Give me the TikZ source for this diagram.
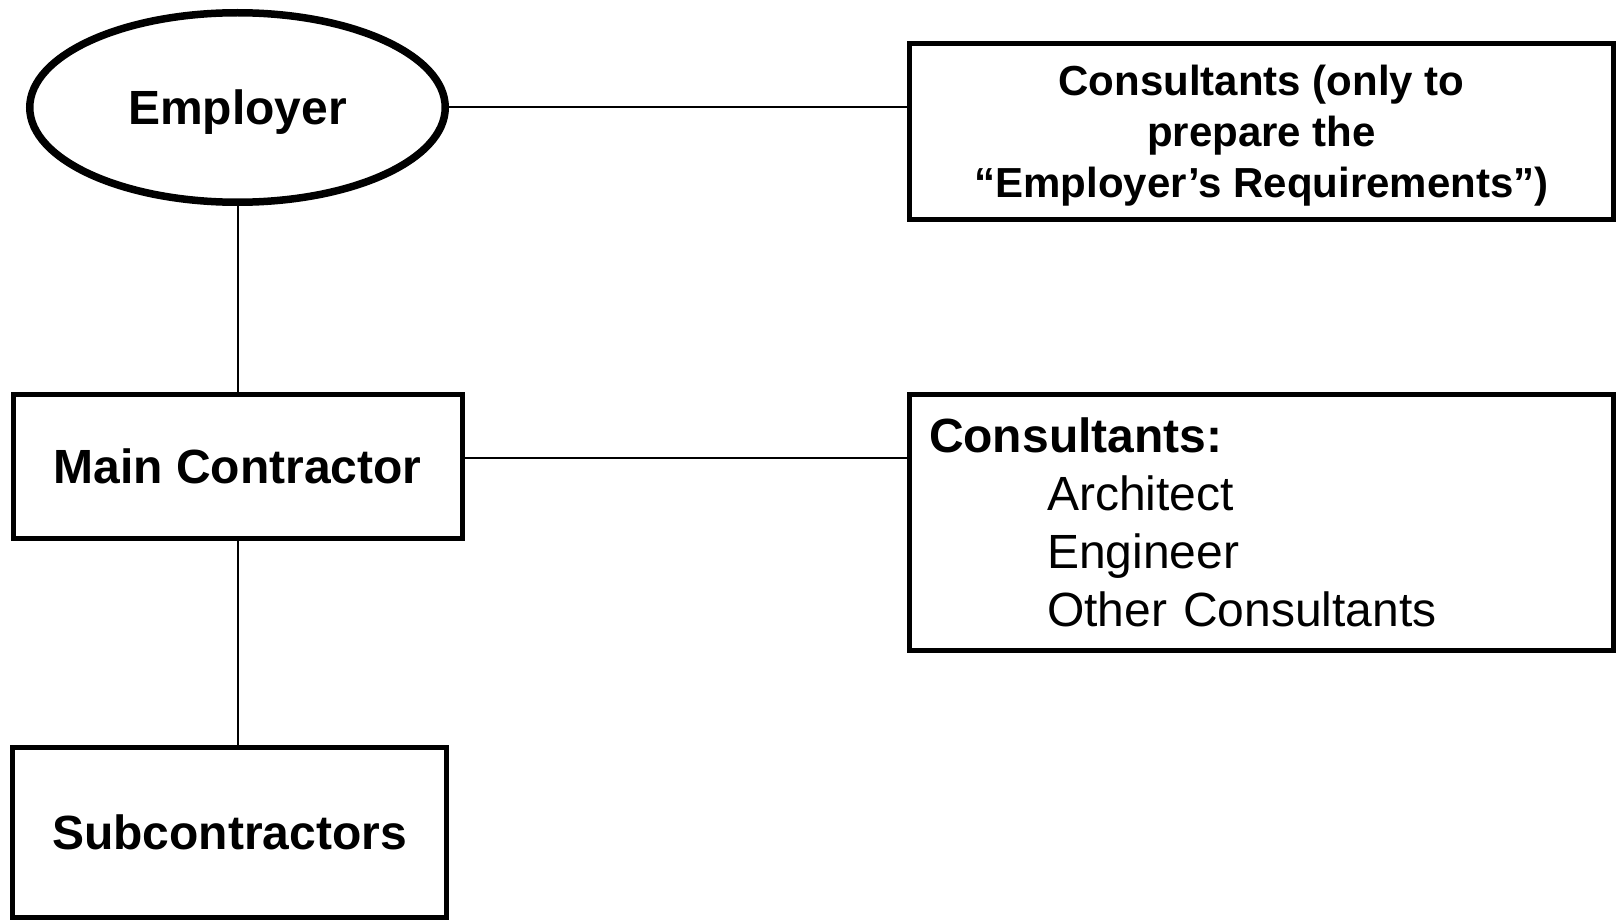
\documentclass[tikz,border=0pt]{standalone}
\usepackage{fontspec}
\setmainfont{Liberation Sans}
\usetikzlibrary{shapes.geometric}
\begin{document}
\begin{tikzpicture}[x=1pt,y=-1pt,
  partybox/.style={draw=drawColor,line width=5pt,inner sep=0pt,outer sep=0pt,font=\fontsize{48}{58}\selectfont\bfseries},
  flat/.style={text depth=0pt},
  link/.style={draw=drawColor,line width=2pt}]
\definecolor{fillColor}{RGB}{255,255,255}
\definecolor{drawColor}{RGB}{0,0,0}
\path[use as bounding box,fill=fillColor] (0,0) rectangle (1618,923);

\node[partybox,flat,ellipse,line width=7.5pt,minimum width=415.5pt,minimum height=189.5pt] (employer) at (237.5,107.5) {Employer};

\node[partybox,flat,rectangle,minimum width=704pt,minimum height=176pt,align=center,
  font=\fontsize{42}{51}\selectfont\bfseries] (designers) at (1261.5,131.5)
  {Consultants (only to\\prepare the\\“Employer’s Requirements”)};

\node[partybox,flat,rectangle,minimum width=449pt,minimum height=144pt] (contractor) at (237.5,466.5) {Main Contractor};

\node[partybox,rectangle,minimum width=704pt,minimum height=256pt,inner xsep=19.4pt,
  text width=665pt,align=left,font=\fontsize{48}{58}\selectfont] (consultants) at (1261.5,522.5)
  {\textbf{Consultants:}\\\hspace*{118pt}Architect\\\hspace*{118pt}Engineer\\\hspace*{118pt}Other Consultants};

\node[partybox,flat,rectangle,minimum width=434pt,minimum height=170pt] (subcontractors) at (229.5,832.5) {Subcontractors};

\path[link] (employer.east) -- (employer.east -| designers.west);
\path[link] (employer.south) -- (contractor.north);
\path[link] ([yshift=8.5pt]contractor.east) -- ([yshift=8.5pt]contractor.east -| consultants.west);
\path[link] (contractor.south) -- (contractor.south |- subcontractors.north);
\end{tikzpicture}
\end{document}
